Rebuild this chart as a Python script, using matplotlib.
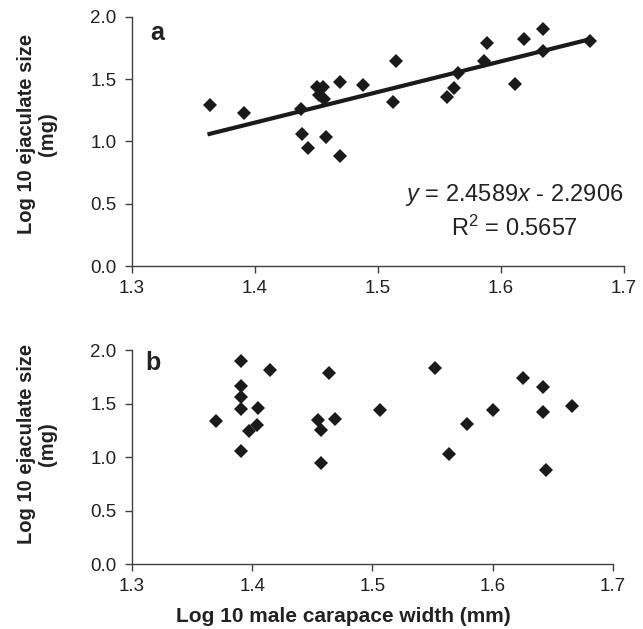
import numpy as np
import matplotlib
matplotlib.use("Agg")
import matplotlib.pyplot as plt

plt.rcParams['font.family'] = ['Liberation Sans', 'DejaVu Sans']
plt.rcParams['mathtext.fontset'] = 'custom'
plt.rcParams['mathtext.rm'] = 'Liberation Sans'
plt.rcParams['mathtext.it'] = 'Liberation Sans:italic'

# panel a: log10 carapace width vs log10 ejaculate size
width_a = [1.363, 1.391, 1.437, 1.450, 1.455, 1.452, 1.456, 1.469, 1.488,
           1.438, 1.443, 1.458, 1.469, 1.515, 1.512, 1.589, 1.586, 1.565,
           1.562, 1.556, 1.619, 1.634, 1.634, 1.611, 1.672]
size_a = [1.29, 1.23, 1.26, 1.44, 1.44, 1.37, 1.34, 1.48, 1.45,
          1.06, 0.95, 1.04, 0.88, 1.65, 1.32, 1.79, 1.65, 1.55,
          1.43, 1.36, 1.82, 1.90, 1.73, 1.46, 1.81]
slope, intercept = 2.4589, -2.2906
r_squared = 0.5657

# panel b
width_b = [1.370, 1.391, 1.415, 1.391, 1.391, 1.391, 1.405, 1.404, 1.397,
           1.391, 1.455, 1.457, 1.464, 1.469, 1.457, 1.506, 1.552, 1.579,
           1.564, 1.600, 1.625, 1.642, 1.642, 1.666, 1.644]
size_b = [1.34, 1.90, 1.81, 1.66, 1.56, 1.45, 1.46, 1.30, 1.24,
          1.06, 1.35, 1.25, 1.79, 1.36, 0.94, 1.44, 1.83, 1.31,
          1.03, 1.44, 1.74, 1.65, 1.42, 1.48, 0.88]

xticks = [1.3, 1.4, 1.5, 1.6, 1.7]
yticks = [0.0, 0.5, 1.0, 1.5, 2.0]

fig = plt.figure(figsize=(6.43, 6.29), dpi=100)
ax1 = fig.add_axes([0.2053, 0.5771, 0.7652, 0.3959])
ax2 = fig.add_axes([0.2053, 0.1033, 0.7480, 0.3402])

spine_col = '#404040'
for ax in (ax1, ax2):
    ax.set_xlim(1.3, 1.7)
    ax.set_ylim(0, 2.0)
    ax.set_xticks(xticks)
    ax.set_yticks(yticks)
    ax.set_xticklabels(['%.1f' % t for t in xticks])
    ax.set_yticklabels(['%.1f' % t for t in yticks])
    for s in ('top', 'right'):
        ax.spines[s].set_visible(False)
    for s in ('left', 'bottom'):
        ax.spines[s].set_color(spine_col)
        ax.spines[s].set_linewidth(1.0)
    ax.tick_params(direction='out', length=5, width=1.0, color=spine_col,
                   labelsize=13.5, labelcolor='#222222')
    ax.tick_params(axis='x', pad=5)
    ax.tick_params(axis='y', pad=6)
    ax.set_ylabel('Log 10 ejaculate size\n(mg)', fontsize=14.5, fontweight='bold',
                  multialignment='center', color='#222222', linespacing=1.1)

ax1.yaxis.set_label_coords(-0.153, 0.53)
ax2.yaxis.set_label_coords(-0.156, 0.56)

ax1.plot(width_a, size_a, 'D', color='#1a1a1a', markersize=7, markeredgewidth=0)
xs = np.array([min(width_a), max(width_a)])
ax1.plot(xs, slope * xs + intercept, color='#1a1a1a', linewidth=3)
ax1.text(1.6106, 0.57, r'$\mathit{y}$ = 2.4589$\mathit{x}$ - 2.2906',
         ha='center', va='center', fontsize=17, color='#222222')
ax1.text(1.6106, 0.305, 'R$^2$ = %.4f' % r_squared, ha='center', va='center',
         fontsize=17, color='#222222')
ax1.text(0.037, 0.934, 'a', transform=ax1.transAxes, fontsize=18,
         fontweight='bold', va='center', color='#222222')

ax2.plot(width_b, size_b, 'D', color='#1a1a1a', markersize=7, markeredgewidth=0)
ax2.text(0.027, 0.94, 'b', transform=ax2.transAxes, fontsize=18,
         fontweight='bold', va='center', color='#222222')
ax2.set_xlabel('Log 10 male carapace width (mm)', fontsize=15,
               fontweight='bold', color='#222222')
ax2.xaxis.set_label_coords(0.44, -0.2)

fig.savefig('out.png', dpi=100)
